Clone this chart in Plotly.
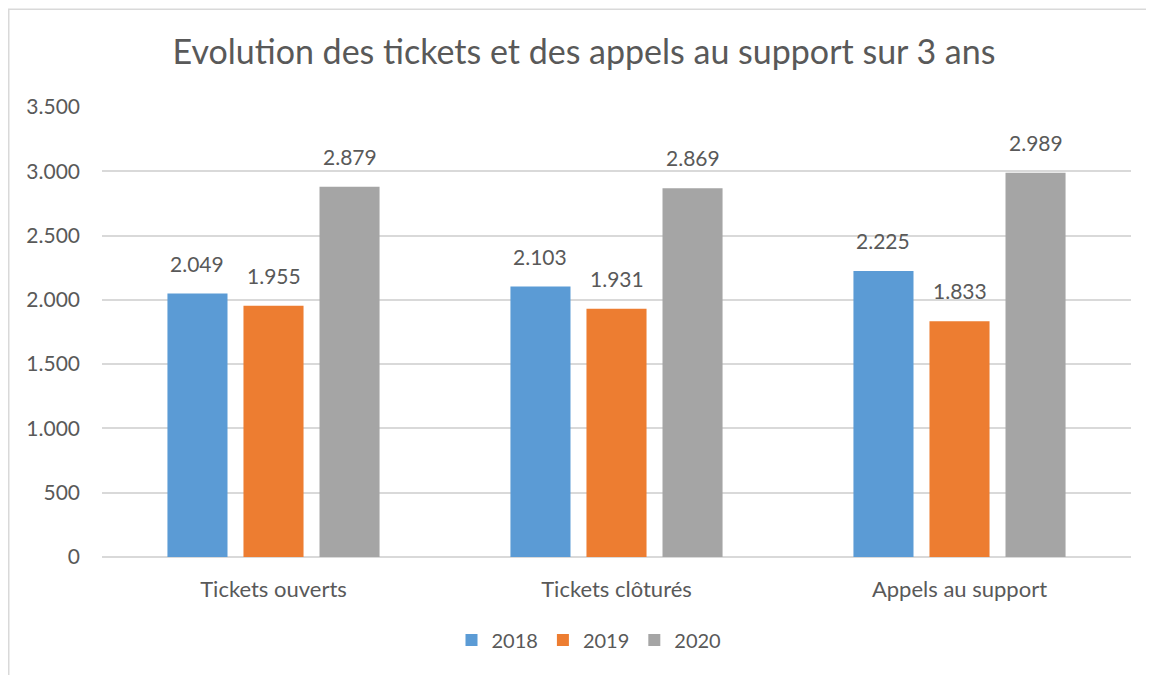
import plotly.graph_objects as go

categories = ["Tickets ouverts", "Tickets clôturés", "Appels au support"]
years = ["2018", "2019", "2020"]
values_2018 = [2049, 2103, 2225]
values_2019 = [1955, 1931, 1833]
values_2020 = [2879, 2869, 2989]
series = [values_2018, values_2019, values_2020]
colors = ["#5B9BD5", "#ED7D31", "#A5A5A5"]
y_ticks = [0, 500, 1000, 1500, 2000, 2500, 3000, 3500]

FONT = "Lato"
TXT = "#595959"

# The page body has an 8px margin, so the figure is drawn offset by 8px;
# screen positions below are converted by subtracting OFF.
OFF = 8
W, H = 1154 - OFF, 675 - OFF
ml = 102 - OFF
mt = 106.5 - OFF
mr = W - (1131 - OFF)
mb = H - (557 - OFF)
pw = W - ml - mr
ph = H - mt - mb
BARGAP = 0.335
GROUPGAP = 0.21

fig = go.Figure()
for name, vals, col in zip(years, series, colors):
    fig.add_trace(go.Bar(
        x=categories, y=vals, name=name,
        marker=dict(color=col, line=dict(width=0)),
        hovertemplate="%{x}<br>" + name + ": %{y:,d}<extra></extra>",
    ))

# data labels placed above each bar
cat_w = pw / len(categories)
slot = cat_w * (1 - BARGAP) / len(series)
for i, vals in enumerate(series):
    off = (i - (len(series) - 1) / 2) * slot
    for c, v in zip(categories, vals):
        fig.add_annotation(
            x=c, y=v, xref="x", yref="y", xshift=off, yshift=16,
            text=f"{v:,d}".replace(",", "."), showarrow=False,
            xanchor="center", yanchor="bottom",
            font=dict(family=FONT, size=21, color=TXT),
        )

fig.update_layout(
    width=W, height=H, autosize=False,
    margin=dict(l=ml, r=mr, t=mt, b=mb, pad=0, autoexpand=False),
    paper_bgcolor="white", plot_bgcolor="white",
    separators=",.",
    barmode="group", bargap=BARGAP, bargroupgap=GROUPGAP,
    font=dict(family=FONT, size=21, color=TXT),
    title=dict(text="Evolution des tickets et des appels au support sur 3 ans",
               x=(584 - OFF) / W, xanchor="center", y=1 - (52 - OFF) / H, yanchor="middle",
               font=dict(family=FONT, size=34, color=TXT)),
    legend=dict(orientation="h", x=(589 - 102) / pw, xanchor="center",
                y=-(640 - 557) / ph, yanchor="middle",
                font=dict(family=FONT, size=20, color=TXT),
                itemwidth=30, traceorder="normal"),
    xaxis=dict(showgrid=False, showline=False, ticks="", zeroline=False, tickangle=0,
               ticklabelstandoff=17, tickfont=dict(family=FONT, size=22, color=TXT)),
    yaxis=dict(range=[0, 3500], tickvals=y_ticks, tickformat=",d",
               showgrid=True, gridcolor="#D9D9D9", gridwidth=1.5,
               zeroline=True, zerolinecolor="#D9D9D9", zerolinewidth=1.5,
               showline=False, ticks="", ticklabelstandoff=21,
               tickfont=dict(family=FONT, size=21, color=TXT)),
)

# chart border (left edge visible, top edge at the very top)
fig.add_shape(type="rect", xref="paper", yref="paper",
              x0=(0.75 - ml) / pw, x1=(W + 20 - ml) / pw,
              y0=(mb - H - 20) / ph, y1=(H - mb - 0.75) / ph,
              line=dict(color="#D9D9D9", width=1.5), fillcolor="rgba(0,0,0,0)", layer="below")

fig.write_html("out.html", config={"displayModeBar": False})
